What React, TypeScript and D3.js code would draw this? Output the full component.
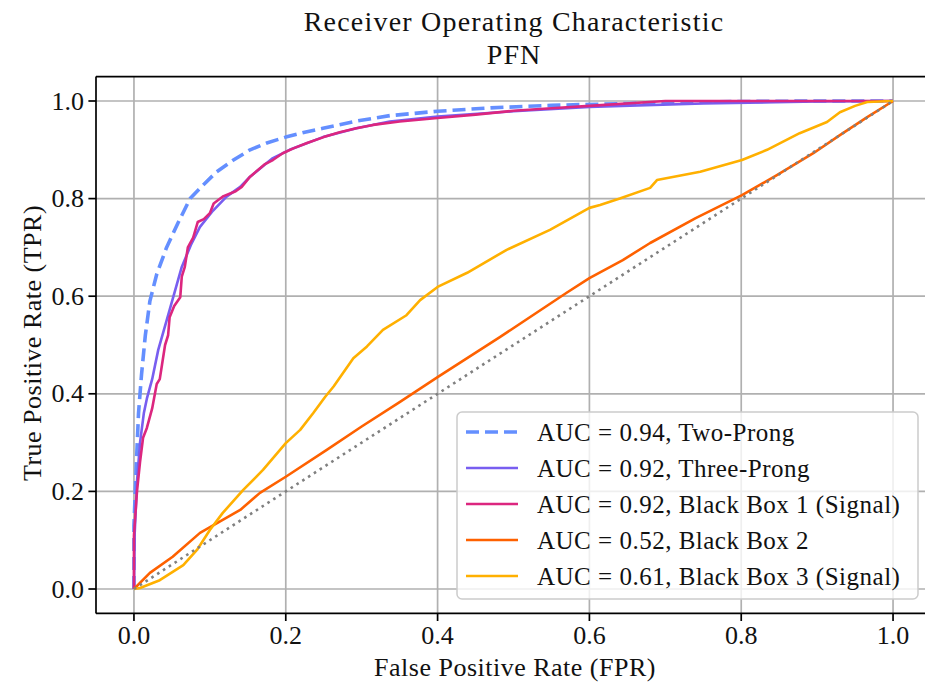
import * as d3 from "d3";
import { useEffect, useRef } from "react";

// fpr / tpr
const twoProngFpr = [0, 0.0, 0.003, 0.006, 0.01, 0.015, 0.021, 0.03, 0.043, 0.058, 0.074, 0.09, 0.109, 0.13, 0.153, 0.175, 0.2, 0.225, 0.249, 0.29, 0.337, 0.4, 0.47, 0.55, 0.65, 0.8, 0.9, 1.0];
const twoProngTpr = [0, 0.13, 0.25, 0.36, 0.44, 0.52, 0.59, 0.645, 0.7, 0.75, 0.8, 0.826, 0.855, 0.878, 0.9, 0.914, 0.926, 0.936, 0.944, 0.958, 0.97, 0.979, 0.986, 0.991, 0.995, 0.999, 1.0, 1.0];

const threeProngFpr = [0, 0.001, 0.004, 0.008, 0.013, 0.017, 0.024, 0.032, 0.047, 0.063, 0.075, 0.087, 0.104, 0.122, 0.14, 0.153, 0.183, 0.205, 0.249, 0.293, 0.337, 0.4, 0.5, 0.6, 0.75, 0.9, 1.0];
const threeProngTpr = [0, 0.115, 0.22, 0.3, 0.36, 0.39, 0.43, 0.49, 0.572, 0.66, 0.705, 0.742, 0.775, 0.804, 0.824, 0.845, 0.883, 0.9, 0.926, 0.944, 0.958, 0.968, 0.979, 0.988, 0.995, 0.999, 1.0];

const blackBox1Fpr = [0, 0.0, 0.004, 0.008, 0.012, 0.017, 0.024, 0.03, 0.034, 0.037, 0.041, 0.045, 0.047, 0.053, 0.061, 0.063, 0.067, 0.071, 0.078, 0.084, 0.092, 0.1, 0.105, 0.111, 0.118, 0.126, 0.134, 0.142, 0.153, 0.163, 0.172, 0.183, 0.196, 0.21, 0.228, 0.25, 0.271, 0.293, 0.315, 0.35, 0.4, 0.45, 0.5, 0.55, 0.6, 0.7, 0.85, 1.0];
const blackBox1Tpr = [0, 0.11, 0.2, 0.26, 0.31, 0.33, 0.37, 0.42, 0.43, 0.46, 0.5, 0.52, 0.557, 0.58, 0.598, 0.64, 0.66, 0.7, 0.72, 0.752, 0.758, 0.77, 0.79, 0.797, 0.805, 0.81, 0.815, 0.824, 0.845, 0.858, 0.87, 0.879, 0.893, 0.903, 0.914, 0.926, 0.936, 0.944, 0.951, 0.958, 0.965, 0.972, 0.98, 0.985, 0.99, 1.0, 1.0, 1.0];

const blackBox2Fpr = [0, 0.021, 0.051, 0.087, 0.14, 0.166, 0.2, 0.254, 0.3, 0.35, 0.4, 0.482, 0.57, 0.6, 0.644, 0.68, 0.74, 0.801, 0.847, 0.895, 0.93, 0.966, 1.0];
const blackBox2Tpr = [0, 0.033, 0.066, 0.115, 0.162, 0.197, 0.23, 0.285, 0.333, 0.383, 0.434, 0.516, 0.607, 0.637, 0.674, 0.709, 0.76, 0.807, 0.848, 0.893, 0.93, 0.967, 1.0];

const blackBox3Fpr = [0, 0.008, 0.034, 0.065, 0.083, 0.1, 0.117, 0.144, 0.17, 0.2, 0.219, 0.236, 0.252, 0.263, 0.289, 0.307, 0.328, 0.359, 0.377, 0.4, 0.439, 0.491, 0.548, 0.6, 0.614, 0.64, 0.68, 0.689, 0.746, 0.801, 0.834, 0.877, 0.913, 0.93, 0.95, 0.966, 1.0];
const blackBox3Tpr = [0, 0.002, 0.018, 0.049, 0.08, 0.121, 0.156, 0.203, 0.244, 0.299, 0.326, 0.36, 0.394, 0.415, 0.473, 0.497, 0.531, 0.561, 0.592, 0.619, 0.648, 0.695, 0.736, 0.781, 0.787, 0.8, 0.822, 0.838, 0.855, 0.879, 0.9, 0.934, 0.957, 0.977, 0.99, 0.998, 1.0];

const labels = [
  "AUC = 0.94, Two-Prong",
  "AUC = 0.92, Three-Prong",
  "AUC = 0.92, Black Box 1 (Signal)",
  "AUC = 0.52, Black Box 2",
  "AUC = 0.61, Black Box 3 (Signal)",
];
const colors = ["#648FFF", "#785EF0", "#DC267F", "#FE6100", "#FFB000"];
const ticks = [0, 0.2, 0.4, 0.6, 0.8, 1.0];

const FONT = "'Liberation Serif', 'DejaVu Serif', serif";

const App = () => {
  const ref = useRef<SVGSVGElement>(null);

  useEffect(() => {
    const svg = d3.select(ref.current);
    svg.selectAll("*").remove();

    const W = 925, H = 684;
    const x = d3.scaleLinear().domain([-0.05, 1.05]).range([96, 931]);
    const y = d3.scaleLinear().domain([-0.05, 1.05]).range([613.4, 76.6]);

    svg.append("rect").attr("width", W).attr("height", H).attr("fill", "white");

    svg.append("defs").append("clipPath").attr("id", "plotclip")
      .append("rect").attr("x", 96).attr("y", 76.6).attr("width", 835).attr("height", 536.8);

    // grid
    const grid = svg.append("g");
    ticks.forEach((t) => {
      grid.append("line").attr("x1", x(t)).attr("x2", x(t)).attr("y1", y(-0.05)).attr("y2", y(1.05))
        .attr("stroke", "#b0b0b0").attr("stroke-width", 1.7);
      grid.append("line").attr("y1", y(t)).attr("y2", y(t)).attr("x1", x(-0.05)).attr("x2", x(1.05))
        .attr("stroke", "#b0b0b0").attr("stroke-width", 1.7);
    });

    const series = [
      [twoProngFpr, twoProngTpr],
      [threeProngFpr, threeProngTpr],
      [blackBox1Fpr, blackBox1Tpr],
      [blackBox2Fpr, blackBox2Tpr],
      [blackBox3Fpr, blackBox3Tpr],
    ];
    const line = d3.line<[number, number]>().x((d) => x(d[0])).y((d) => y(d[1]));
    const plot = svg.append("g").attr("clip-path", "url(#plotclip)");

    series.forEach(([fx, ty], i) => {
      const pts = fx.map((v, j) => [v, ty[j]] as [number, number]);
      plot.append("path").attr("d", line(pts)).attr("fill", "none")
        .attr("stroke", colors[i])
        .attr("stroke-width", i === 0 ? 3.6 : 2.6)
        .attr("stroke-dasharray", i === 0 ? "13,6" : null)
        .attr("stroke-linejoin", "round");
    });

    plot.append("path").attr("d", line([[0, 0], [1, 1]])).attr("fill", "none")
      .attr("stroke", "gray").attr("stroke-width", 2.6)
      .attr("stroke-dasharray", "2.6,4.3");

    // spines
    svg.append("line").attr("x1", 96).attr("x2", 96).attr("y1", 76.6).attr("y2", 613.4).attr("stroke", "black").attr("stroke-width", 1.7);
    svg.append("line").attr("x1", 96).attr("x2", 931).attr("y1", 613.4).attr("y2", 613.4).attr("stroke", "black").attr("stroke-width", 1.7);
    svg.append("line").attr("x1", 96).attr("x2", 931).attr("y1", 76.6).attr("y2", 76.6).attr("stroke", "black").attr("stroke-width", 1.7);

    // ticks
    const xAxis = svg.append("g");
    ticks.forEach((t) => {
      xAxis.append("line").attr("x1", x(t)).attr("x2", x(t)).attr("y1", 613.4).attr("y2", 621)
        .attr("stroke", "black").attr("stroke-width", 1.7);
      xAxis.append("text").attr("x", x(t)).attr("y", 644).attr("text-anchor", "middle")
        .attr("font-family", FONT).attr("font-size", 26).attr("fill", "#111").text(t.toFixed(1));
    });
    const yAxis = svg.append("g");
    ticks.forEach((t) => {
      yAxis.append("line").attr("x1", 88.4).attr("x2", 96).attr("y1", y(t)).attr("y2", y(t))
        .attr("stroke", "black").attr("stroke-width", 1.7);
      yAxis.append("text").attr("x", 84).attr("y", y(t) + 8.5).attr("text-anchor", "end")
        .attr("font-family", FONT).attr("font-size", 26).attr("fill", "#111").text(t.toFixed(1));
    });

    // labels
    svg.append("text").attr("x", 515).attr("y", 676).attr("text-anchor", "middle")
      .attr("font-family", FONT).attr("font-size", 26).attr("letter-spacing", 0.5)
      .attr("fill", "#111").text("False Positive Rate (FPR)");
    svg.append("text").attr("transform", "translate(41,343) rotate(-90)").attr("text-anchor", "middle")
      .attr("font-family", FONT).attr("font-size", 26).attr("letter-spacing", 0.5)
      .attr("fill", "#111").text("True Positive Rate (TPR)");
    svg.append("text").attr("x", 514).attr("y", 31).attr("text-anchor", "middle")
      .attr("font-family", FONT).attr("font-size", 28).attr("letter-spacing", 1.2)
      .attr("fill", "#111").text("Receiver Operating Characteristic");
    svg.append("text").attr("x", 514).attr("y", 64).attr("text-anchor", "middle")
      .attr("font-family", FONT).attr("font-size", 28).attr("letter-spacing", 1)
      .attr("fill", "#111").text("PFN");

    // legend
    const lg = svg.append("g");
    lg.append("rect").attr("x", 457).attr("y", 412).attr("width", 461).attr("height", 187).attr("rx", 5)
      .attr("fill", "white").attr("fill-opacity", 0.8).attr("stroke", "#cccccc").attr("stroke-width", 1.5);
    labels.forEach((lab, i) => {
      const cy = 432 + i * 36;
      lg.append("line").attr("x1", 466).attr("x2", 518).attr("y1", cy).attr("y2", cy)
        .attr("stroke", colors[i]).attr("stroke-width", i === 0 ? 3.6 : 2.6)
        .attr("stroke-dasharray", i === 0 ? "13,6" : null);
      lg.append("text").attr("x", 537).attr("y", cy + 8.5).attr("font-family", FONT)
        .attr("font-size", 25).attr("letter-spacing", 0.5).attr("fill", "#111").text(lab);
    });
  }, []);

  return (
    <svg ref={ref} width={925} height={684} style={{ position: "absolute", left: 0, top: 0 }} />
  );
};

export default App;
